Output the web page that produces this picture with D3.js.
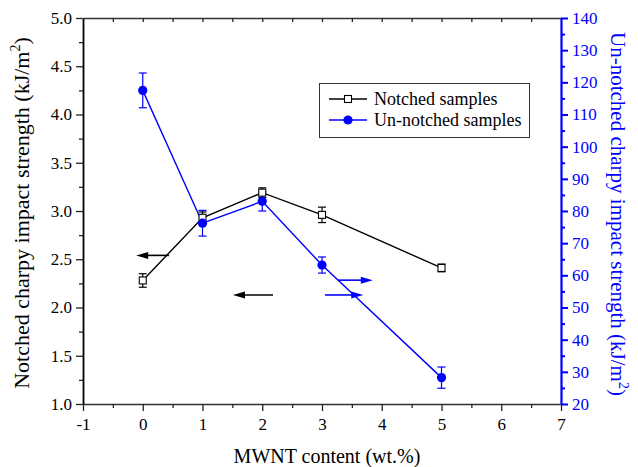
<!DOCTYPE html>
<html>
<head>
<meta charset="utf-8">
<script src="https://cdn.jsdelivr.net/npm/d3@7"></script>
<style>
  body { margin: 0; background: #fff; }
  svg, svg text { font-family: "Liberation Serif", "Times New Roman", serif; }
</style>
</head>
<body>
<div id="chart"></div>
<script>
const contents = [0, 1, 2, 3, 5];
const notched = [2.28, 2.93, 3.19, 2.96, 2.41];
const notchedErr = [0.07, 0.06, 0.05, 0.08, 0.04];
const unnotched = [117.5, 76.2, 83.0, 63.2, 28.2];
const unnotchedErr = [5.4, 4.0, 3.0, 2.5, 3.3];
const xTicks = [-1, 0, 1, 2, 3, 4, 5, 6, 7];
const leftTicks = [1.0, 1.5, 2.0, 2.5, 3.0, 3.5, 4.0, 4.5, 5.0];
const rightTicks = [20, 30, 40, 50, 60, 70, 80, 90, 100, 110, 120, 130, 140];
const legendNames = ["Notched samples", "Un-notched samples"];

const width = 638, height = 467;
const blue = "#0000ff";
const svg = d3.select("#chart").append("svg")
  .attr("width", width).attr("height", height);

const x = d3.scaleLinear().domain([-1, 7]).range([83, 561]);
const yL = d3.scaleLinear().domain([1, 5]).range([404, 18]);
const yR = d3.scaleLinear().domain([20, 140]).range([404, 18]);

// axes
const bottomAx = svg.append("g").attr("transform", "translate(0,404)")
  .call(d3.axisBottom(x).tickValues(d3.range(-1, 7.01, 0.5)).tickSize(7).tickSizeOuter(0).tickFormat(""));
bottomAx.selectAll(".tick line").filter(d => d % 1 !== 0).attr("y2", 4);
svg.append("g").attr("transform", "translate(0,404)")
  .call(d3.axisBottom(x).tickValues(xTicks).tickSize(0).tickPadding(14).tickFormat(d => String(d)))
  .call(g => g.select(".domain").remove());

const topAx = svg.append("g").attr("transform", "translate(0,18)")
  .call(d3.axisBottom(x).tickValues(d3.range(-0.5, 7, 0.5)).tickSize(4).tickSizeOuter(0).tickFormat(""));

const leftAx = svg.append("g").attr("transform", "translate(83,0)")
  .call(d3.axisLeft(yL).tickValues(d3.range(1, 5.01, 0.25)).tickSize(7).tickSizeOuter(0).tickFormat(""));
leftAx.selectAll(".tick line").filter(d => Math.abs(d * 2 - Math.round(d * 2)) > 0.01).attr("x2", -4);
svg.append("g").attr("transform", "translate(83,0)")
  .call(d3.axisLeft(yL).tickValues(leftTicks).tickSize(0).tickPadding(11).tickFormat(d3.format(".1f")))
  .call(g => g.select(".domain").remove());

const rightAx = svg.append("g").attr("transform", "translate(561,0)")
  .call(d3.axisRight(yR).tickValues(d3.range(20, 140.1, 5)).tickSize(7).tickSizeOuter(0).tickFormat(""));
rightAx.selectAll(".tick line").filter(d => d % 10 !== 0).attr("x2", 4);
svg.append("g").attr("transform", "translate(561,0)")
  .call(d3.axisRight(yR).tickValues(rightTicks).tickSize(0).tickPadding(11).tickFormat(d3.format("d")))
  .call(g => g.select(".domain").remove())
  .selectAll("text").attr("fill", blue);

[bottomAx, topAx, leftAx].forEach(g => {
  g.select(".domain").attr("stroke", "#333").attr("stroke-width", 1.5);
  g.selectAll(".tick line").attr("stroke", "#222").attr("stroke-width", 1.3);
});
leftAx.select(".domain").attr("stroke", "#000").attr("stroke-width", 1.8);
rightAx.select(".domain").attr("stroke", blue).attr("stroke-width", 2.2);
rightAx.selectAll(".tick line").attr("stroke", blue).attr("stroke-width", 2);
svg.selectAll("g").attr("font-family", "Liberation Serif");
svg.selectAll(".tick text").attr("font-size", 17);

// axis titles
const lt = svg.append("text").attr("transform", "translate(29,213) rotate(-90)")
  .attr("text-anchor", "middle").attr("font-size", 22).attr("fill", "#000");
lt.append("tspan").text("Notched charpy impact strength (kJ/m");
lt.append("tspan").attr("font-size", 14).attr("dy", -9).text("2");
lt.append("tspan").attr("dy", 9).text(")");

const rt = svg.append("text").attr("transform", "translate(611,214) rotate(90)")
  .attr("text-anchor", "middle").attr("font-size", 21).attr("fill", blue);
rt.append("tspan").text("Un-notched charpy impact strength (kJ/m");
rt.append("tspan").attr("font-size", 14).attr("dy", -8).text("2");
rt.append("tspan").attr("dy", 8).text(")");

svg.append("text").attr("x", 327).attr("y", 463).attr("text-anchor", "middle")
  .attr("font-size", 20).text("MWNT content (wt.%)");

// lines
const lineL = d3.line().x((d, i) => x(contents[i])).y(d => yL(d));
const lineR = d3.line().x((d, i) => x(contents[i])).y(d => yR(d));
svg.append("path").attr("d", lineL(notched)).attr("fill", "none").attr("stroke", "#000").attr("stroke-width", 1.4);
svg.append("path").attr("d", lineR(unnotched)).attr("fill", "none").attr("stroke", blue).attr("stroke-width", 1.4);

function errorBars(vals, errs, scale, color) {
  const g = svg.append("g").attr("stroke", color).attr("stroke-width", 1.2);
  vals.forEach((v, i) => {
    const cx = x(contents[i]), y1 = scale(v - errs[i]), y2 = scale(v + errs[i]);
    g.append("line").attr("x1", cx).attr("x2", cx).attr("y1", y1).attr("y2", y2);
    g.append("line").attr("x1", cx - 4).attr("x2", cx + 4).attr("y1", y1).attr("y2", y1);
    g.append("line").attr("x1", cx - 4).attr("x2", cx + 4).attr("y1", y2).attr("y2", y2);
  });
}
errorBars(unnotched, unnotchedErr, yR, blue);
errorBars(notched, notchedErr, yL, "#000");

svg.selectAll(".sq").data(notched).enter().append("rect")
  .attr("x", (d, i) => x(contents[i]) - 3.5).attr("y", d => yL(d) - 3.5)
  .attr("width", 7).attr("height", 7)
  .attr("fill", "#fff").attr("stroke", "#000").attr("stroke-width", 1.1);
svg.selectAll(".ci").data(unnotched).enter().append("circle")
  .attr("cx", (d, i) => x(contents[i])).attr("cy", d => yR(d)).attr("r", 4.6)
  .attr("fill", blue);

// arrows pointing to the axes
function arrow(x1, x2, yy, color) {
  const dir = Math.sign(x2 - x1);
  svg.append("line").attr("x1", x1).attr("x2", x2 - dir * 8).attr("y1", yy).attr("y2", yy)
    .attr("stroke", color).attr("stroke-width", 1.6);
  svg.append("path")
    .attr("d", `M${x2},${yy} L${x2 - dir * 12},${yy - 3.5} L${x2 - dir * 12},${yy + 3.5} Z`)
    .attr("fill", color);
}
arrow(x(0.44), x(-0.11), yL(2.54), "#000");
arrow(x(2.18), x(1.51), yL(2.13), "#000");
arrow(x(3.27), x(3.85), yR(58.5), blue);
arrow(x(3.05), x(3.69), yR(53.9), blue);

// legend
const lg = svg.append("g");
lg.append("rect").attr("x", 319.5).attr("y", 83.5).attr("width", 210).attr("height", 54)
  .attr("fill", "#fff").attr("stroke", "#333").attr("stroke-width", 1);
legendNames.forEach((name, i) => {
  const yy = 99 + i * 21;
  const color = i === 0 ? "#000" : blue;
  lg.append("line").attr("x1", 329).attr("x2", 367).attr("y1", yy).attr("y2", yy)
    .attr("stroke", color).attr("stroke-width", 1.3);
  if (i === 0) {
    lg.append("rect").attr("x", 344.5).attr("y", yy - 3.5).attr("width", 7).attr("height", 7)
      .attr("fill", "#fff").attr("stroke", "#000").attr("stroke-width", 1.1);
  } else {
    lg.append("circle").attr("cx", 348).attr("cy", yy).attr("r", 4.6).attr("fill", blue);
  }
  lg.append("text").attr("x", 374).attr("y", yy + 6).attr("font-size", 18).text(name);
});
</script>
</body>
</html>
